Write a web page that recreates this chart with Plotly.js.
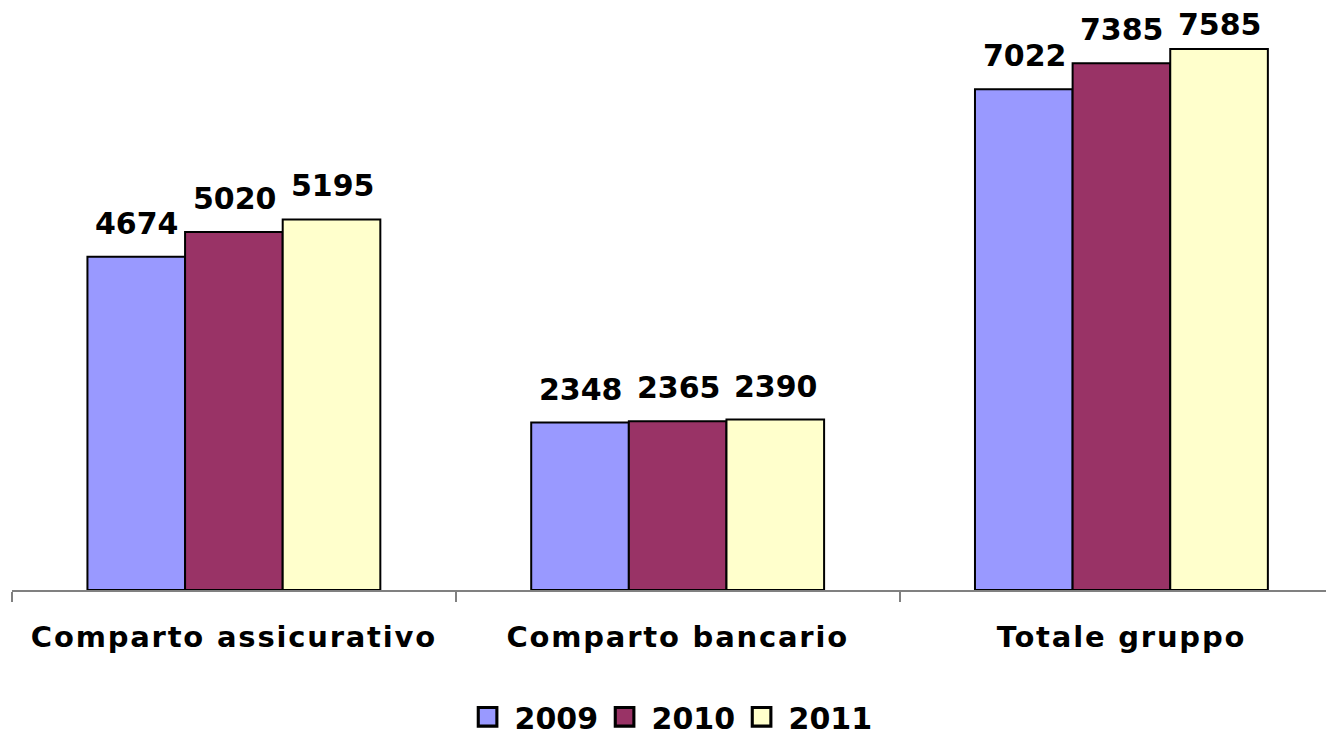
<!DOCTYPE html>
<html>
<head>
<meta charset="utf-8">
<script src="https://cdn.plot.ly/plotly-3.0.1.min.js"></script>
<style>
  html, body { margin: 0; padding: 0; background: #ffffff; }
  #chart { width: 1326px; height: 730px; }
  /* slightly opened-up category names */
  .xtick text { letter-spacing: 1.8px; }
</style>
</head>
<body>
<div id="chart"></div>
<script>
// Comparti del gruppo e valori per anno
const categories = ['Comparto assicurativo', 'Comparto bancario', 'Totale gruppo'];
const years = ['2009', '2010', '2011'];
const values2009 = [4674, 2348, 7022];
const values2010 = [5020, 2365, 7385];
const values2011 = [5195, 2390, 7585];

const seriesValues = [values2009, values2010, values2011];
const colors = ['#9999FF', '#993366', '#FFFFCC'];

const FONT = 'DejaVu Sans';

const traces = seriesValues.map((vals, i) => ({
  type: 'bar',
  name: years[i],
  x: categories,
  y: vals,
  marker: { color: colors[i], line: { color: '#000000', width: 2 } },
  hoverinfo: 'x+y+name'
}));

// geometry used to place the value labels over their bars
const W = 1326, H = 730;
const plotLeft = 12, plotBottom = 140;
const plotWidth = W - plotLeft, plotHeight = H - plotBottom;
const xRange = [-0.5, 2.461];
const yRange = [0, 8272];
const bargap = 0.34;
const pxPerCat = plotWidth / (xRange[1] - xRange[0]);
const barPx = pxPerCat * (1 - bargap) / years.length;

// labels sit above the bar, but are kept inside the top of the chart
function labelShift(v) {
  const barTopPx = plotHeight - (v - yRange[0]) / (yRange[1] - yRange[0]) * plotHeight;
  return Math.min(14, barTopPx - 44);
}

const annotations = [];
seriesValues.forEach((vals, i) => {
  vals.forEach((v, j) => {
    annotations.push({
      x: categories[j], y: v, xref: 'x', yref: 'y',
      text: String(v), showarrow: false,
      xanchor: 'center', yanchor: 'bottom',
      xshift: (i - 1) * barPx + 1, yshift: labelShift(v),
      font: { family: FONT, size: 30, color: '#000000', weight: 'bold' }
    });
  });
});

const layout = {
  width: W, height: H,
  margin: { l: plotLeft, r: 0, t: 0, b: plotBottom, autoexpand: false },
  paper_bgcolor: '#ffffff', plot_bgcolor: '#ffffff',
  barmode: 'group', bargap: bargap, bargroupgap: 0,
  showlegend: true,
  legend: {
    orientation: 'h', x: 0.505, xanchor: 'center', y: -0.215, yanchor: 'middle',
    font: { family: FONT, size: 30, color: '#000000', weight: 'bold' },
    itemwidth: 30, traceorder: 'normal'
  },
  xaxis: {
    type: 'category', range: xRange, fixedrange: true, automargin: false,
    showline: true, linecolor: '#808080', linewidth: 2,
    ticks: 'outside', tickson: 'boundaries', ticklen: 10, tickcolor: '#808080', tickwidth: 2,
    showgrid: false, zeroline: false,
    tickfont: { family: FONT, size: 29, color: '#000000', weight: 'bold' },
    ticklabelstandoff: 20
  },
  yaxis: {
    range: yRange, fixedrange: true, automargin: false,
    visible: false, showgrid: false, zeroline: false
  },
  annotations: annotations
};

Plotly.newPlot('chart', traces, layout, { staticPlot: true }).then(gd => {
  // larger legend swatches, nudged left of their labels
  gd.querySelectorAll('.legendpoints path').forEach(p => {
    const t = p.getAttribute('transform') || '';
    p.setAttribute('transform', t + ' translate(-7,0) scale(1.55)');
  });
  // a little more air between legend entries
  gd.querySelectorAll('.legend .traces').forEach((g, i) => {
    const m = /translate\(\s*([-\d.e]+)[ ,]+([-\d.e]+)\s*\)/.exec(g.getAttribute('transform') || '');
    if (m) {
      const x = parseFloat(m[1]) - 8 + i * 8.5;
      g.setAttribute('transform', 'translate(' + x + ',' + m[2] + ')');
    }
  });
  // let the legend draw freely
  gd.querySelectorAll('.legend .scrollbox').forEach(s => s.removeAttribute('clip-path'));
});
</script>
</body>
</html>
